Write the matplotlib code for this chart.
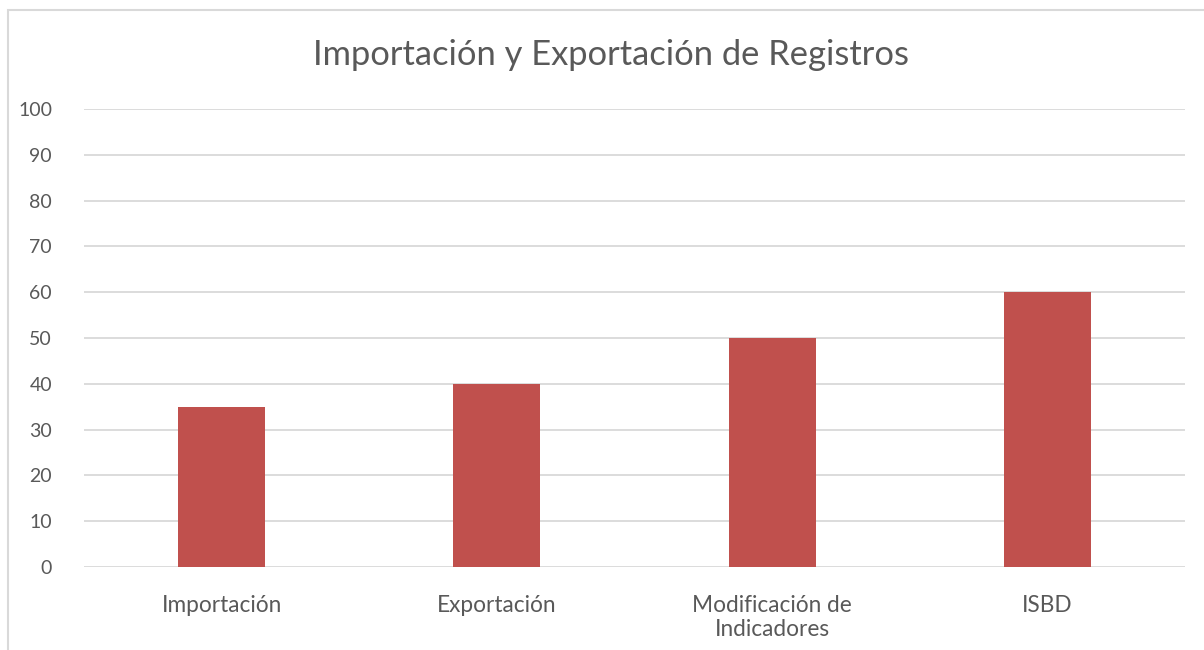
import matplotlib
matplotlib.use("Agg")
import matplotlib.pyplot as plt
from matplotlib.patches import Rectangle

categories = ["Importación", "Exportación", "Modificación de\nIndicadores", "ISBD"]
values = [35, 40, 50, 60]
yticks = [0, 10, 20, 30, 40, 50, 60, 70, 80, 90, 100]

plt.rcParams['font.family'] = ['Lato', 'DejaVu Sans']

fig = plt.figure(figsize=(12.04, 6.5), dpi=100)
ax = fig.add_axes([84/1204, 1-567/650, (1185-84)/1204, (567-109)/650])

x = list(range(len(categories)))
ax.bar(x, values, width=0.316, color="#C0504D", zorder=3)
ax.set_xlim(-0.5, len(categories)-0.5)
ax.set_ylim(0, 100)
ax.set_yticks(yticks)
ax.set_xticks(x)
ax.set_xticklabels(categories, fontsize=16.3, color="#595959", linespacing=1.2)
ax.set_yticklabels([str(v) for v in yticks], fontsize=14, color="#595959")
ax.tick_params(axis='both', length=0)
ax.tick_params(axis='y', pad=23)
ax.tick_params(axis='x', pad=20)
ax.yaxis.grid(True, color="#D9D9D9", linewidth=1.3, zorder=0)
for s in ax.spines.values():
    s.set_visible(False)

fig.text(611/1204, 1-55/650, "Importación y Exportación de Registros", ha='center', va='center',
         fontsize=24.8, color="#595959")

fig.patches.append(Rectangle((8/1204, -0.5), 2, 1.5 - 10/650, transform=fig.transFigure,
                             fill=False, edgecolor="#D9D9D9", linewidth=1.5))

fig.savefig("out.png", dpi=100, facecolor="white")
